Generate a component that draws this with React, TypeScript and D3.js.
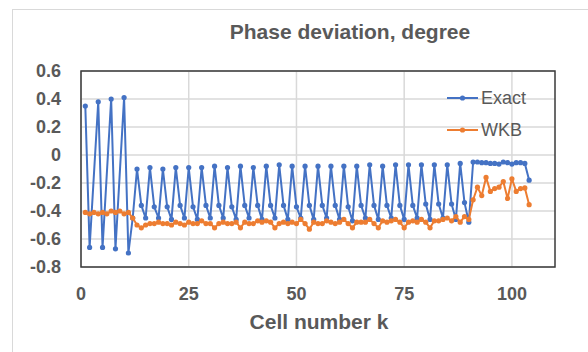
import React from "react";
import * as d3 from "d3";

// null = no marker visible in the reference at that cell
const exactValues: (number | null)[] = [
  0.35, -0.66, null, 0.38, -0.66, null, 0.40, -0.67, null, 0.41, -0.70, -0.45,
  -0.10, -0.36, -0.45,
  -0.09, -0.37, -0.45,
  -0.10, -0.37, -0.46,
  -0.09, -0.36, -0.45,
  -0.09, -0.37, -0.46,
  -0.09, -0.36, -0.45,
  -0.08, -0.36, -0.45,
  -0.09, -0.37, -0.46,
  -0.08, -0.36, -0.45,
  -0.09, -0.36, -0.46,
  -0.08, -0.36, -0.45,
  -0.07, -0.36, -0.46,
  -0.08, -0.37, -0.45,
  -0.08, -0.36, -0.46,
  -0.08, -0.36, -0.45,
  -0.08, -0.36, -0.46,
  -0.08, -0.37, -0.47,
  -0.08, -0.36, -0.45,
  -0.07, -0.36, -0.46,
  -0.08, -0.36, -0.45,
  -0.07, -0.36, -0.46,
  -0.07, -0.36, -0.45,
  -0.07, -0.35, -0.46,
  -0.07, -0.35, -0.45,
  -0.07, -0.35, -0.46,
  -0.06, -0.34, -0.48,
  -0.05, -0.05, -0.055, -0.055, -0.06, -0.06, -0.065, -0.05, -0.055, -0.065, -0.055, -0.055, -0.06,
  -0.18,
];

const wkbValues: number[] = [
  -0.41, -0.42, -0.41, -0.42, -0.41, -0.42, -0.40, -0.41, -0.40, -0.42, -0.41,
  -0.45, -0.50, -0.52, -0.50, -0.49, -0.49, -0.48, -0.49, -0.49, -0.50, -0.48,
  -0.49, -0.50, -0.48, -0.49, -0.49, -0.47, -0.49, -0.49, -0.52, -0.49, -0.48,
  -0.49, -0.49, -0.48, -0.52, -0.48, -0.49, -0.49, -0.47, -0.48, -0.47, -0.48,
  -0.52, -0.49, -0.48, -0.49, -0.48, -0.49, -0.46, -0.49, -0.53, -0.48, -0.49,
  -0.49, -0.47, -0.48, -0.49, -0.48, -0.46, -0.49, -0.52, -0.48, -0.48, -0.48,
  -0.46, -0.49, -0.52, -0.47, -0.48, -0.47, -0.46, -0.48, -0.52, -0.48, -0.47,
  -0.48, -0.46, -0.48, -0.52, -0.47, -0.47, -0.46, -0.45, -0.47, -0.44, -0.48,
  -0.44, -0.46, -0.32, -0.23, -0.29, -0.16, -0.26, -0.24, -0.23, -0.19, -0.31,
  -0.17, -0.26, -0.24, -0.235, -0.355,
];

const xTicks: number[] = [0, 25, 50, 75, 100];
const yTicks: number[] = [0.6, 0.4, 0.2, 0, -0.2, -0.4, -0.6, -0.8];
const seriesNames: string[] = ["Exact", "WKB"];
const seriesColors: string[] = ["#4472C4", "#ED7D31"];
const titleText = "Phase deviation, degree";
const xTitleText = "Cell number k";

type Pt = { k: number; v: number };

export default function App() {
  const W = 588;
  const H = 352;
  const left = 81, right = 555, top = 71, bottom = 267;
  const x = d3.scaleLinear().domain([0, 110]).range([left, right]);
  const y = d3.scaleLinear().domain([-0.8, 0.6]).range([bottom, top]);
  const series: Pt[][] = [exactValues, wkbValues].map((vals) =>
    (vals as (number | null)[])
      .map((v, i) => ({ k: i + 1, v: v as number, ok: v !== null }))
      .filter((d) => d.ok)
      .map((d) => ({ k: d.k, v: d.v }))
  );
  const line = d3
    .line<Pt>()
    .x((d) => x(d.k))
    .y((d) => y(d.v));
  const font = "'Liberation Sans', Arial, sans-serif";
  const gray = "#595959";
  const legendY = [98, 130];

  return (
    <svg
      width={W}
      height={H}
      style={{ position: "absolute", left: 0, top: 0, background: "#fff" }}
      fontFamily={font}
    >
      <rect x={0} y={0} width={W} height={H} fill="#fff" />
      <rect x={12.5} y={9.5} width={W + 20} height={H + 20} fill="none" stroke="#d9d9d9" strokeWidth={1} />
      {yTicks.map((t) => (
        <line key={"gy" + t} x1={left} x2={right} y1={y(t)} y2={y(t)} stroke="#d9d9d9" strokeWidth={1.5} />
      ))}
      {xTicks.map((t) => (
        <line key={"gx" + t} x1={x(t)} x2={x(t)} y1={top} y2={bottom} stroke="#d9d9d9" strokeWidth={1.5} />
      ))}
      <rect x={left} y={top} width={right - left} height={bottom - top} fill="none" stroke="#3a3a3a" strokeWidth={1.5} />
      {series.map((s, i) => (
        <g key={"s" + i}>
          <path d={line(s) || ""} fill="none" stroke={seriesColors[i]} strokeWidth={2} strokeLinejoin="round" />
          {s.map((d) => (
            <circle key={d.k} cx={x(d.k)} cy={y(d.v)} r={2.6} fill={seriesColors[i]} />
          ))}
        </g>
      ))}
      {yTicks.map((t) => (
        <text
          key={"ty" + t}
          x={61}
          y={y(t)}
          dy="0.35em"
          textAnchor="end"
          fontSize={18}
          fontWeight="bold"
          fill={gray}
        >
          {t === 0 ? "0" : t.toFixed(1)}
        </text>
      ))}
      {xTicks.map((t) => (
        <text
          key={"tx" + t}
          x={x(t)}
          y={294}
          dy="0.35em"
          textAnchor="middle"
          fontSize={18}
          fontWeight="bold"
          fill={gray}
        >
          {t}
        </text>
      ))}
      <text x={350} y={32} dy="0.35em" textAnchor="middle" fontSize={21} fontWeight="bold" fill={gray}>
        {titleText}
      </text>
      <text x={319} y={322} dy="0.35em" textAnchor="middle" fontSize={21} fontWeight="bold" fill={gray}>
        {xTitleText}
      </text>
      {seriesNames.map((n, i) => (
        <g key={"lg" + n}>
          <line x1={447} x2={478} y1={legendY[i]} y2={legendY[i]} stroke={seriesColors[i]} strokeWidth={2} />
          <circle cx={462.5} cy={legendY[i]} r={2.6} fill={seriesColors[i]} />
          <text x={481} y={legendY[i]} dy="0.35em" fontSize={18} fill={gray}>
            {n}
          </text>
        </g>
      ))}
    </svg>
  );
}
